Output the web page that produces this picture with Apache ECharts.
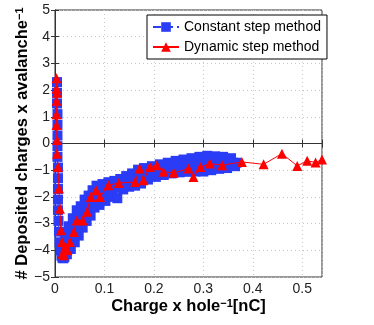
<!DOCTYPE html>
<html>
<head>
<meta charset="utf-8">
<script src="https://cdn.jsdelivr.net/npm/echarts@6/dist/echarts.min.js"></script>
<style>html,body{margin:0;padding:0;background:#fff}#c{width:374px;height:325px}</style>
</head>
<body>
<div id="c"></div>
<script>
// Constant step method (x = charge per hole [nC], y = deposited charges per avalanche)
var constX = [0.004,0.004,0.004,0.005,0.005,0.005,0.005,0.005,0.006,0.006,0.006,0.006,0.006,0.007,0.008,0.009,0.011,0.013,0.015,0.017,0.019,
0.020,0.022,0.024,0.026,0.028,0.030,0.032,0.034,0.036,0.038,0.040,0.042,0.044,0.046,0.048,0.050,0.052,0.054,0.056,0.058,
0.060,0.062,0.064,0.066,0.068,0.070,0.072,0.074,0.076,0.078,0.080,0.082,0.084,0.087,0.090,0.093,0.096,0.099,0.102,0.105,
0.108,0.111,0.114,0.117,0.120,0.123,0.126,0.129,0.132,0.135,0.138,0.141,0.144,0.147,0.150,0.153,0.156,0.159,0.162,0.165,
0.168,0.171,0.174,0.177,0.180,0.184,0.188,0.192,0.196,0.200,0.204,0.208,0.212,0.216,0.220,0.224,0.228,0.232,0.236,0.240,
0.244,0.248,0.252,0.256,0.260,0.264,0.268,0.272,0.276,0.280,0.284,0.288,0.292,0.296,0.300,0.304,0.308,0.312,0.316,0.320,
0.324,0.328,0.332,0.336,0.340,0.344,0.348,0.352,0.356,0.360,0.364,0.367];
var constY = [2.3,1.9,1.5,1.1,0.7,0.3,-0.1,-0.5,-0.9,-1.3,-1.7,-2.1,-2.5,-2.9,-3.3,-3.7,-4.0,-4.2,-4.28,-4.3,-4.25,
-3.35,-3.8,-4.15,-3.6,-3.1,-3.5,-3.95,-3.4,-2.8,-3.2,-3.7,-3.1,-2.5,-2.95,-3.45,-2.85,-2.35,-2.7,-3.15,-2.6,
-2.1,-2.5,-2.9,-2.4,-1.95,-2.3,-2.7,-2.2,-1.75,-2.1,-2.4,-1.95,-1.58,-1.9,-2.3,-1.85,-1.52,-1.85,-2.15,-1.75,
-1.45,-1.7,-2.0,-1.65,-1.4,-1.65,-2.05,-1.6,-1.33,-1.55,-1.72,-1.45,-1.22,-1.4,-1.62,-1.35,-1.12,-1.3,-1.58,-1.25,
-0.98,-1.2,-1.5,-1.2,-0.92,-1.1,-1.35,-1.05,-0.85,-1.0,-1.25,-0.98,-0.78,-0.95,-1.18,-0.92,-0.72,-0.9,-1.12,-0.88,
-0.65,-0.85,-1.08,-0.82,-0.6,-0.8,-1.06,-0.8,-0.55,-0.78,-1.05,-0.76,-0.5,-0.75,-1.05,-0.72,-0.46,-0.72,-1.0,-0.7,
-0.48,-0.7,-0.95,-0.7,-0.5,-0.7,-0.92,-0.72,-0.55,-0.72,-0.85,-0.72];
// Dynamic step method
var dynX = [0.003,0.003,0.004,0.003,0.003,0.003,0.004,0.004,0.006,0.008,0.010,0.012,0.014,0.015,0.018,0.021,0.025,0.030,0.038,0.044,
0.056,0.065,0.072,0.083,0.091,0.108,0.129,0.162,0.171,0.179,0.192,0.206,0.219,0.240,0.270,0.280,0.294,0.313,0.338,0.378,
0.422,0.459,0.490,0.510,0.527,0.540];
var dynY = [2.44,2.06,1.9,1.6,1.1,0.69,0.13,-0.38,-0.88,-1.69,-2.44,-3.25,-3.69,-4.13,-4.19,-3.88,-4.0,-3.69,-3.31,-2.88,
-2.88,-2.56,-2.0,-1.75,-2.0,-1.56,-1.48,-1.44,-0.94,-1.38,-0.88,-0.81,-1.06,-1.1,-0.94,-1.25,-0.88,-0.75,-0.81,-0.69,
-0.78,-0.38,-0.84,-0.65,-0.71,-0.6];
var xTicks = [0,0.1,0.2,0.3,0.4,0.5];
var yTicks = [-5,-4,-3,-2,-1,0,1,2,3,4,5];
var seriesNames = ['Constant step method','Dynamic step method'];

function zip(a,b){var r=[];for(var i=0;i<a.length;i++)r.push([a[i],b[i]]);return r;}
function fmtNum(v){var s=String(Math.round(v*100)/100);return v<0?'\u2212'+s.slice(1):s;}

var chart = echarts.init(document.getElementById('c'));
var font = '"Liberation Sans", Arial, sans-serif';
var gridCol = '#c8c8c8';
var axCol = '#333';
var nameRich = {b:{fontFamily:font,fontWeight:'bold',fontSize:16.5,color:'#000'},s:{fontFamily:font,fontWeight:'bold',fontSize:11,color:'#000',verticalAlign:'top'}};
chart.setOption({
  animation:false,
  textStyle:{fontFamily:font},
  grid:{left:55,right:52,top:10,bottom:48,show:true,borderColor:axCol,borderWidth:1},
  legend:{
    orient:'vertical',left:147,top:15,
    padding:[5,6,5,5],itemGap:6,itemWidth:26,itemHeight:12,
    backgroundColor:'#fff',borderColor:'#000',borderWidth:1,borderRadius:0,
    textStyle:{fontFamily:font,fontSize:14,color:'#000'},
    data:[seriesNames[0],seriesNames[1]]
  },
  xAxis:[{
    type:'value',min:0,max:0.54,interval:0.1,
    name:'{b|Charge x hole}{s|\u22121}{b|[nC]}',nameLocation:'middle',nameGap:21,nameMoveOverlap:false,
    nameTextStyle:{rich:nameRich},
    axisLine:{lineStyle:{color:axCol}},
    axisTick:{inside:true,length:4,lineStyle:{color:axCol}},
    axisLabel:{fontSize:14,color:'#222',margin:5,formatter:function(v){return xTicks.indexOf(Math.round(v*100)/100)>=0?fmtNum(v):'';}},
    splitLine:{show:true,lineStyle:{color:gridCol,type:[1,3]}}
  },{
    type:'value',min:0,max:0.54,interval:0.1,position:'top',
    axisLine:{show:true,lineStyle:{color:axCol}},axisTick:{inside:true,length:4,lineStyle:{color:axCol}},
    axisLabel:{show:false},splitLine:{show:false}
  }],
  yAxis:[{
    type:'value',min:-5,max:5,interval:1,
    name:'{b|# Deposited charges x avalanche}{s|\u22121}',nameLocation:'middle',nameGap:24,nameMoveOverlap:false,
    nameTextStyle:{rich:nameRich},
    axisLine:{show:true,lineStyle:{color:axCol}},
    axisTick:{show:true,inside:true,length:4,lineStyle:{color:axCol}},
    axisLabel:{fontSize:14,color:'#222',margin:5,formatter:function(v){return yTicks.indexOf(v)>=0?fmtNum(v):'';}},
    splitLine:{show:true,lineStyle:{color:gridCol,type:[1,3]}}
  },{
    type:'value',min:-5,max:5,interval:1,position:'right',
    axisLine:{show:true,lineStyle:{color:axCol}},axisTick:{show:true,inside:true,length:4,lineStyle:{color:axCol}},
    axisLabel:{show:false},splitLine:{show:false}
  }],
  series:[{
    name:seriesNames[0],type:'line',data:zip(constX,constY),
    symbol:'rect',symbolSize:10,showAllSymbol:true,
    itemStyle:{color:'#2a3cf5'},lineStyle:{color:'#2a3cf5',width:1,type:'dashed'},z:2
  },{
    name:seriesNames[1],type:'line',data:zip(dynX,dynY),
    symbol:'triangle',symbolSize:10,showAllSymbol:true,
    itemStyle:{color:'#ff0000'},lineStyle:{color:'#ff0000',width:1},z:3
  }]
});
</script>
</body>
</html>
